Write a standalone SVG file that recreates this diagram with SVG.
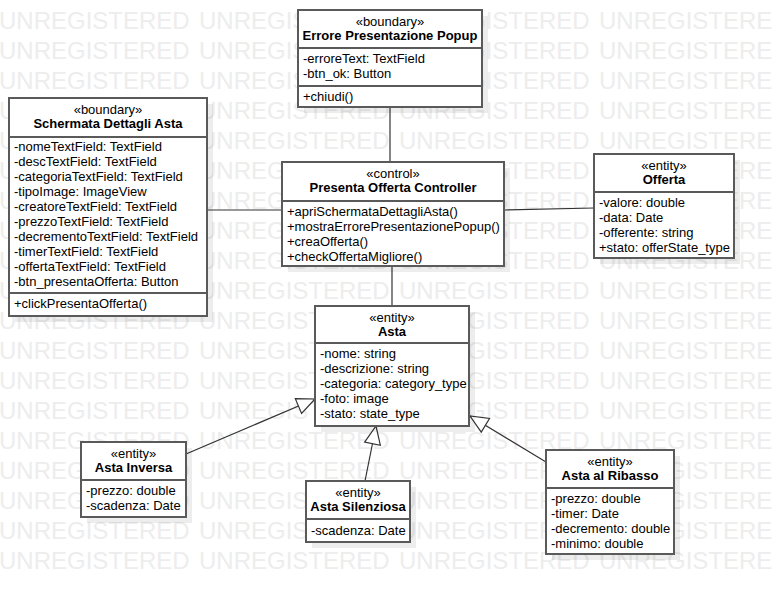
<svg xmlns="http://www.w3.org/2000/svg" xmlns:xlink="http://www.w3.org/1999/xlink" width="773" height="595" viewBox="0 0 773 595">
<style>
.bg{fill:#fff}
.wm{font-family:"Liberation Sans",Arial,sans-serif;font-size:24px;fill:#ededed}
.box{fill:#fff;stroke:#5a5a5a;stroke-width:2}
.sh{fill:#000;fill-opacity:0.07}
.dv{stroke:#5a5a5a;stroke-width:2}
.t{font-family:"Liberation Sans",Arial,sans-serif;font-size:13px;fill:#000}
.c{text-anchor:middle}
.b{font-weight:bold}
.ln{stroke:#333;stroke-width:1.2;fill:none}
.gen{marker-end:url(#tri)}
</style>
<defs>
<marker id="tri" viewBox="0 0 18 16" refX="18" refY="8" markerWidth="18" markerHeight="16" markerUnits="userSpaceOnUse" orient="auto" overflow="visible">
<path d="M0,0 L18,8 L0,16 Z" fill="#fff" stroke="#333" stroke-width="1.2"/>
</marker>
<text id="wmrow" class="wm" y="29"><tspan x="-1">UNREGISTERED</tspan><tspan x="199">UNREGISTERED</tspan><tspan x="399">UNREGISTERED</tspan><tspan x="599">UNREGISTERED</tspan></text>
</defs>
<rect class="bg" x="0" y="0" width="773" height="595"/>
<g id="watermark">
<use xlink:href="#wmrow" y="0"/>
<use xlink:href="#wmrow" y="30"/>
<use xlink:href="#wmrow" y="60"/>
<use xlink:href="#wmrow" y="90"/>
<use xlink:href="#wmrow" y="120"/>
<use xlink:href="#wmrow" y="150"/>
<use xlink:href="#wmrow" y="180"/>
<use xlink:href="#wmrow" y="210"/>
<use xlink:href="#wmrow" y="240"/>
<use xlink:href="#wmrow" y="270"/>
<use xlink:href="#wmrow" y="300"/>
<use xlink:href="#wmrow" y="330"/>
<use xlink:href="#wmrow" y="360"/>
<use xlink:href="#wmrow" y="390"/>
<use xlink:href="#wmrow" y="420"/>
<use xlink:href="#wmrow" y="450"/>
<use xlink:href="#wmrow" y="480"/>
<use xlink:href="#wmrow" y="510"/>
<use xlink:href="#wmrow" y="540"/>
</g>
<g id="connectors">
<path class="ln" d="M390,107 V162"/>
<path class="ln" d="M207,210 H282"/>
<path class="ln" d="M504,210 L594,208"/>
<path class="ln" d="M392,266 V306"/>
<path class="ln gen" d="M186,454 L315,399"/>
<path class="ln gen" d="M365,481 L376,426"/>
<path class="ln gen" d="M546,462 L470,416"/>
</g>
<g id="popup">
<rect class="sh" x="304" y="16" width="184" height="97"/>
<rect class="box" x="298" y="10" width="184" height="97"/>
<text class="t c" x="390" y="26">«boundary»</text>
<text class="t c b" x="390" y="40">Errore Presentazione Popup</text>
<line class="dv" x1="298" y1="48" x2="482" y2="48"/>
<text class="t" x="303" y="63">-erroreText: TextField</text>
<text class="t" x="303" y="78">-btn_ok: Button</text>
<line class="dv" x1="298" y1="86" x2="482" y2="86"/>
<text class="t" x="303" y="101">+chiudi()</text>
</g>
<g id="schermata">
<rect class="sh" x="15" y="104" width="198" height="218"/>
<rect class="box" x="9" y="98" width="198" height="218"/>
<text class="t c" x="108" y="114">«boundary»</text>
<text class="t c b" x="108" y="128">Schermata Dettagli Asta</text>
<line class="dv" x1="9" y1="137" x2="207" y2="137"/>
<text class="t" x="14" y="151">-nomeTextField: TextField</text>
<text class="t" x="14" y="166">-descTextField: TextField</text>
<text class="t" x="14" y="181">-categoriaTextField: TextField</text>
<text class="t" x="14" y="196">-tipoImage: ImageView</text>
<text class="t" x="14" y="211">-creatoreTextField: TextField</text>
<text class="t" x="14" y="226">-prezzoTextField: TextField</text>
<text class="t" x="14" y="241">-decrementoTextField: TextField</text>
<text class="t" x="14" y="256">-timerTextField: TextField</text>
<text class="t" x="14" y="271">-offertaTextField: TextField</text>
<text class="t" x="14" y="286">-btn_presentaOfferta: Button</text>
<line class="dv" x1="9" y1="293" x2="207" y2="293"/>
<text class="t" x="14" y="308">+clickPresentaOfferta()</text>
</g>
<g id="controller">
<rect class="sh" x="288" y="168" width="222" height="104"/>
<rect class="box" x="282" y="162" width="222" height="104"/>
<text class="t c" x="393" y="178">«control»</text>
<text class="t c b" x="393" y="192">Presenta Offerta Controller</text>
<line class="dv" x1="282" y1="201" x2="504" y2="201"/>
<text class="t" x="287" y="216">+apriSchermataDettagliAsta()</text>
<text class="t" x="287" y="231">+mostraErrorePresentazionePopup()</text>
<text class="t" x="287" y="246">+creaOfferta()</text>
<text class="t" x="287" y="261">+checkOffertaMigliore()</text>
</g>
<g id="offerta">
<rect class="sh" x="600" y="160" width="140" height="104"/>
<rect class="box" x="594" y="154" width="140" height="104"/>
<text class="t c" x="664" y="170">«entity»</text>
<text class="t c b" x="664" y="184">Offerta</text>
<line class="dv" x1="594" y1="192" x2="734" y2="192"/>
<text class="t" x="599" y="207">-valore: double</text>
<text class="t" x="599" y="222">-data: Date</text>
<text class="t" x="599" y="237">-offerente: string</text>
<text class="t" x="599" y="252">+stato: offerState_type</text>
</g>
<g id="asta">
<rect class="sh" x="321" y="312" width="154" height="120"/>
<rect class="box" x="315" y="306" width="154" height="120"/>
<text class="t c" x="392" y="322">«entity»</text>
<text class="t c b" x="392" y="336">Asta</text>
<line class="dv" x1="315" y1="343" x2="469" y2="343"/>
<text class="t" x="320" y="358">-nome: string</text>
<text class="t" x="320" y="373">-descrizione: string</text>
<text class="t" x="320" y="388">-categoria: category_type</text>
<text class="t" x="320" y="403">-foto: image</text>
<text class="t" x="320" y="418">-stato: state_type</text>
</g>
<g id="asta-inversa">
<rect class="sh" x="87" y="448" width="105" height="75"/>
<rect class="box" x="81" y="442" width="105" height="75"/>
<text class="t c" x="133.5" y="458">«entity»</text>
<text class="t c b" x="133.5" y="472">Asta Inversa</text>
<line class="dv" x1="81" y1="480" x2="186" y2="480"/>
<text class="t" x="86" y="495">-prezzo: double</text>
<text class="t" x="86" y="510">-scadenza: Date</text>
</g>
<g id="asta-silenziosa">
<rect class="sh" x="312" y="487" width="104" height="61"/>
<rect class="box" x="306" y="481" width="104" height="61"/>
<text class="t c" x="358" y="497">«entity»</text>
<text class="t c b" x="358" y="511">Asta Silenziosa</text>
<line class="dv" x1="306" y1="519" x2="410" y2="519"/>
<text class="t" x="311" y="535">-scadenza: Date</text>
</g>
<g id="asta-ribasso">
<rect class="sh" x="552" y="456" width="128" height="104"/>
<rect class="box" x="546" y="450" width="128" height="104"/>
<text class="t c" x="610" y="466">«entity»</text>
<text class="t c b" x="610" y="480">Asta al Ribasso</text>
<line class="dv" x1="546" y1="488" x2="674" y2="488"/>
<text class="t" x="551" y="503">-prezzo: double</text>
<text class="t" x="551" y="518">-timer: Date</text>
<text class="t" x="551" y="533">-decremento: double</text>
<text class="t" x="551" y="548">-minimo: double</text>
</g>
</svg>
